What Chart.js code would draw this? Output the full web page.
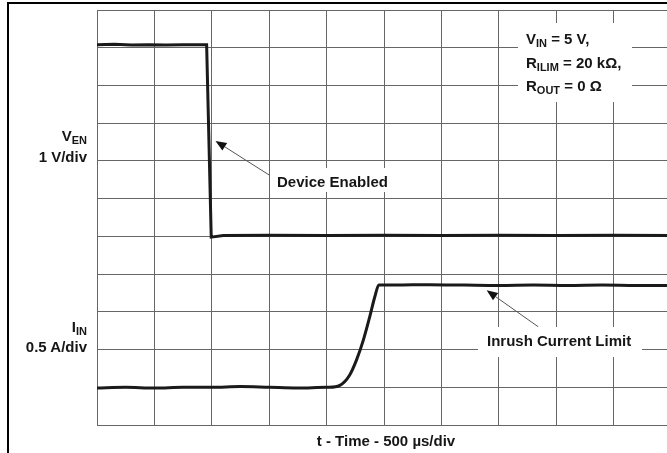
<!DOCTYPE html>
<html>
<head>
<meta charset="utf-8">
<script src="https://cdn.jsdelivr.net/npm/chart.js@4.4.1/dist/chart.umd.min.js"></script>
<style>
    html, body { margin: 0; padding: 0; background: #fff; overflow: hidden; }
    #wrap { position: relative; width: 667px; height: 453px; overflow: hidden; }
    #scope { position: absolute; left: 0; top: 0; }
    #frame { position: absolute; left: 7px; top: 2px; width: 700px; height: 500px;
             border-top: 2px solid #000; border-left: 2px solid #000; }
    .box { position: absolute; background: #fff; }
    .t { position: absolute; white-space: nowrap; color: #161616;
         font: bold 15px 'Liberation Sans', Arial, sans-serif; line-height: 15px; }
    .r { text-align: right; }
    .t sub { font-size: 11px; vertical-align: baseline; position: relative; top: 3px; }
</style>
</head>
<body>
<div id="wrap">
    <canvas id="scope" width="680" height="453"></canvas>
    <div id="frame"></div>

    <!-- white patches that hide the grid behind the notes -->
    <div class="box" style="left:518px; top:23px; width:114px; height:79px;"></div>
    <div class="box" style="left:273px; top:168px; width:122px; height:24px;"></div>
    <div class="box" style="left:478px; top:327px; width:164px; height:30px;"></div>

    <div class="t r" style="right:580px; top:128px;">V<sub>EN</sub></div>
    <div class="t r" style="right:580px; top:149px;">1 V/div</div>
    <div class="t r" style="right:580px; top:319px;">I<sub>IN</sub></div>
    <div class="t r" style="right:580px; top:339px;">0.5 A/div</div>

    <div class="t" style="left:526px; top:30.5px;">V<sub>IN</sub> = 5 V,</div>
    <div class="t" style="left:526px; top:55px;">R<sub>ILIM</sub> = 20 kΩ,</div>
    <div class="t" style="left:526px; top:77.5px;">R<sub>OUT</sub> = 0 Ω</div>

    <div class="t" style="left:277px; top:174px;">Device Enabled</div>
    <div class="t" style="left:487px; top:333px;">Inrush Current Limit</div>

    <div class="t" style="left:386px; top:433px; transform: translateX(-50%);">t - Time - 500 µs/div</div>
</div>

<script>
'use strict';
// ---------- Scope capture: enable into inrush current limit ----------
// Grid is 10 x 11 divisions. V_EN sits on div 5 (1 V/div), I_IN on div 1 (0.5 A/div).

const US_PER_DIV = 500;
const V_PER_DIV  = 1;
const A_PER_DIV  = 0.5;
const VEN_ZERO_DIV = 5;
const IIN_ZERO_DIV = 1;

// V_EN trace (time in µs, volts)
const venTime  = [0, 150, 300, 450, 600, 750, 900, 955, 995, 1100, 1500, 2000, 2500, 3000, 3500, 4000, 4500, 5000];
const venVolts = [5.08, 5.09, 5.07, 5.08, 5.07, 5.08, 5.08, 5.08, -0.02, 0.02, 0.03, 0.02, 0.03, 0.02, 0.03, 0.02, 0.03, 0.02];

// I_IN trace (time in µs, amps)
const iinTime = [0, 250, 500, 750, 1000, 1250, 1500, 1750, 2000, 2025, 2115, 2200, 2260, 2320, 2375, 2420, 2455,
                 2600, 2900, 3200, 3500, 3800, 4100, 4400, 4700, 5000];
const iinAmps = [-0.01, 0.0, -0.01, 0.0, 0.0, 0.01, 0.0, -0.01, 0.0, 0.0, 0.025, 0.16, 0.36, 0.625, 0.93, 1.2, 1.355,
                 1.355, 1.36, 1.355, 1.35, 1.355, 1.35, 1.355, 1.35, 1.35];

// Callout arrows: [tailTime µs, tailDiv, tipTime µs, tipDiv]
const arrows = [
    [1503, 6.62, 1032, 7.53],
    [3845, 2.60, 3394, 3.57],
];

const venPts = venTime.map((t, i) => ({ x: t, y: VEN_ZERO_DIV + venVolts[i] / V_PER_DIV }));
const iinPts = iinTime.map((t, i) => ({ x: t, y: IIN_ZERO_DIV + iinAmps[i] / A_PER_DIV }));

const arrowPlugin = {
    id: 'callouts',
    afterDatasetsDraw(chart) {
        const { ctx, scales: { x, y } } = chart;
        ctx.save();
        arrows.forEach(([t0, d0, t1, d1]) => {
            const x0 = x.getPixelForValue(t0), y0 = y.getPixelForValue(d0);
            const x1 = x.getPixelForValue(t1), y1 = y.getPixelForValue(d1);
            const ang = Math.atan2(y1 - y0, x1 - x0);
            const len = 11, half = 4.5;
            const bx = x1 - len * Math.cos(ang), by = y1 - len * Math.sin(ang);

            ctx.strokeStyle = '#555';
            ctx.lineWidth = 1;
            ctx.beginPath();
            ctx.moveTo(x0, y0);
            ctx.lineTo(bx, by);
            ctx.stroke();

            ctx.fillStyle = '#111';
            ctx.beginPath();
            ctx.moveTo(x1, y1);
            ctx.lineTo(bx + half * Math.sin(ang), by - half * Math.cos(ang));
            ctx.lineTo(bx - half * Math.sin(ang), by + half * Math.cos(ang));
            ctx.closePath();
            ctx.fill();
        });
        ctx.restore();
    },
};

const gridStyle = { color: '#666', lineWidth: 1, drawTicks: false };

new Chart(document.getElementById('scope'), {
    type: 'scatter',
    data: {
        datasets: [
            {
                label: 'V_EN',
                data: venPts,
                showLine: true,
                borderColor: '#1a1a1a',
                borderWidth: 3,
                pointRadius: 0,
                tension: 0,
            },
            {
                label: 'I_IN',
                data: iinPts,
                showLine: true,
                borderColor: '#1a1a1a',
                borderWidth: 3,
                pointRadius: 0,
                cubicInterpolationMode: 'monotone',
            },
        ],
    },
    options: {
        responsive: false,
        animation: false,
        layout: { padding: { left: 97, top: 10, right: 9, bottom: 28 } },
        plugins: { legend: { display: false }, tooltip: { enabled: false } },
        scales: {
            x: {
                type: 'linear',
                min: 0,
                max: 10 * US_PER_DIV,
                ticks: { display: false, stepSize: US_PER_DIV },
                grid: gridStyle,
                border: { color: '#666' },
            },
            y: {
                type: 'linear',
                min: 0,
                max: 11,
                ticks: { display: false, stepSize: 1 },
                grid: gridStyle,
                border: { color: '#666' },
            },
        },
    },
    plugins: [arrowPlugin],
});
</script>
</body>
</html>
